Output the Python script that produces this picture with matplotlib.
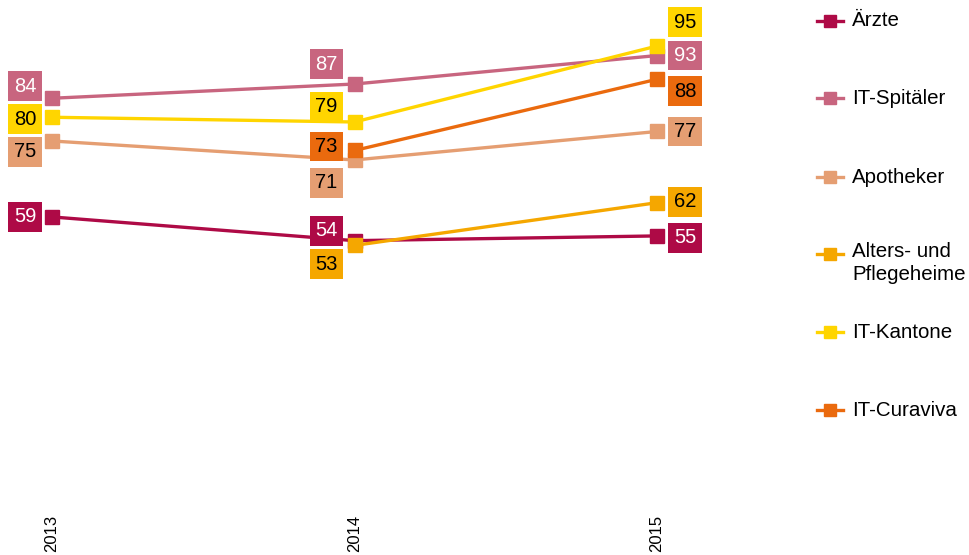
import numpy as np
import matplotlib
matplotlib.use('Agg')
import matplotlib.pyplot as plt
from matplotlib.lines import Line2D

plt.rcParams['font.family'] = ['Liberation Sans', 'DejaVu Sans']

years = ['2013', '2014', '2015']
series_names = ['Ärzte', 'IT-Spitäler', 'Apotheker', 'Alters- und\nPflegeheime', 'IT-Kantone', 'IT-Curaviva']
aerzte = [59, 54, 55]
it_spitaeler = [84, 87, 93]
apotheker = [75, 71, 77]
alters_pflege = [np.nan, 53, 62]
it_kantone = [80, 79, 95]
it_curaviva = [np.nan, 73, 88]

all_values = [aerzte, it_spitaeler, apotheker, alters_pflege, it_kantone, it_curaviva]
colors = ['#AE0A46', '#C8657F', '#E59E72', '#F5A700', '#FFD500', '#EA6A0E']
text_colors = ['white', 'white', 'black', 'black', 'black', 'black']

# label offsets in pixels (dx, dy) per series and year
label_dx = [-27, -28, 28]
label_dy = [
    [0, 10, -2],     # Ärzte
    [12, 20, 0],     # IT-Spitäler
    [-11, -23, 0],   # Apotheker
    [0, -19, 1],     # Alters- und Pflegeheime
    [-2, 15, 24],    # IT-Kantone
    [0, 4, -12],     # IT-Curaviva
]

W, H = 969, 555
fig = plt.figure(figsize=(W / 100, H / 100), dpi=100)
ax = fig.add_axes([0, (H - 497) / H, 760 / W, 497 / H])

x = np.arange(len(years))
for i, vals in enumerate(all_values):
    ax.plot(x, vals, color=colors[i], lw=2.4, marker='s', ms=9.5, zorder=2 + i)
    for j, v in enumerate(vals):
        if np.isnan(v):
            continue
        ax.annotate(str(v), (x[j], v), xytext=(label_dx[j], label_dy[i][j]),
                    textcoords='offset pixels', ha='center', va='center',
                    fontsize=14.5, color=text_colors[i], zorder=20,
                    bbox=dict(boxstyle='square,pad=0.27', fc=colors[i], ec='none'))

ax.set_xlim(-52 / 302.5, (760 - 52) / 302.5)
ax.set_ylim(0, 104.7)
ax.set_xticks(x)
ax.set_xticklabels(years, rotation=90, fontsize=12)
ax.tick_params(axis='x', length=0, pad=13)
ax.set_yticks([])
for s in ax.spines.values():
    s.set_visible(False)

# legend drawn by hand
leg_y = [21, 98, 177, 254, 332, 410]
for i, name in enumerate(series_names):
    yf = 1 - leg_y[i] / H
    fig.add_artist(Line2D([817 / W, 843 / W], [yf, yf], color=colors[i], lw=2.4,
                          transform=fig.transFigure))
    fig.add_artist(Line2D([830 / W], [yf], color=colors[i], marker='s', ms=8,
                          transform=fig.transFigure))
    if '\n' in name:
        fig.text(852 / W, yf + 12 / H, name, fontsize=14.8, va='top', ha='left',
                 linespacing=1.3)
    else:
        fig.text(852 / W, yf, name, fontsize=14.8, va='center', ha='left')

fig.savefig('out.png', dpi=100)
